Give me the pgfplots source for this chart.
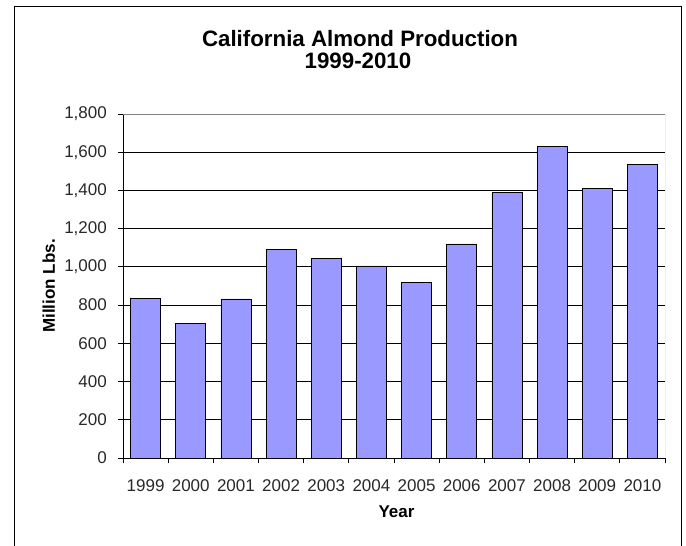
\documentclass[border=0pt]{standalone}
\usepackage{pgfplots}
\pgfplotsset{compat=1.18}
\usepackage{fontspec}
\setmainfont{Liberation Sans}
\definecolor{barfill}{RGB}{153,153,255}
\definecolor{bordergray}{RGB}{128,128,128}
\definecolor{ticktext}{RGB}{40,40,40}
\begin{document}
\begin{tikzpicture}[x=1pt,y=1pt]
\begin{axis}[
  at={(123pt,88pt)}, anchor=south west,
  width=542pt, height=344pt, scale only axis,
  xmin=-0.5, xmax=11.5, ymin=0, ymax=1800,
  axis x line*=bottom, axis y line*=left,
  axis line style={black, line width=0.8pt, -},
  tick align=outside,
  major tick length=5pt, minor tick length=5.5pt,
  ytick={0,200,...,1800},
  ytick style={draw=black, line width=0.8pt},
  xtick={0,...,11},
  xticklabels={1999,2000,2001,2002,2003,2004,2005,2006,2007,2008,2009,2010},
  major x tick style={draw=none},
  minor xtick={-0.5,0.5,...,11.5},
  minor x tick style={draw=black, line width=0.8pt},
  ymajorgrids, major grid style={black, line width=0.8pt},
  scaled y ticks=false,
  /pgf/number format/.cd, 1000 sep={,}, assume math mode=true,
  /pgfplots/.cd,
  yticklabel style={font=\fontsize{17}{18}\selectfont, text=ticktext, anchor=east, inner sep=0pt, xshift=-11pt},
  xticklabel style={font=\fontsize{17}{18}\selectfont, text=ticktext, anchor=north, inner sep=0pt, yshift=-16pt},
  xlabel={Year}, ylabel={Million Lbs.},
  xlabel style={font=\bfseries\fontsize{17}{19}\selectfont, at={(axis description cs:0.5046,-0.1744)}, anchor=base, inner sep=0pt},
  ylabel style={font=\bfseries\fontsize{17}{19}\selectfont, at={(axis description cs:-0.1255,0.5)}, anchor=base, rotate=0, inner sep=0pt},
]
\addplot[ybar, bar width=30pt, fill=barfill, draw=black, line width=0.8pt] coordinates {
(0,833) (1,704) (2,832) (3,1092) (4,1042) (5,1005) (6,917) (7,1120) (8,1390) (9,1632) (10,1412) (11,1534)
};
\draw[bordergray, line width=0.8pt] (rel axis cs:0,1) -- (rel axis cs:1,1) -- (rel axis cs:1,0);
\end{axis}
\draw[line width=1pt] (14,0) -- (14,539) -- (681,539) -- (681,0);
\node[font=\bfseries\fontsize{22.3}{24}\selectfont, anchor=base, inner sep=0pt] at (360,499.3) {California Almond Production};
\node[font=\bfseries\fontsize{22.3}{24}\selectfont, anchor=base, inner sep=0pt] at (358,477) {1999-2010};
\pgfresetboundingbox
\path[use as bounding box] (0,0) rectangle (686,546);
\end{tikzpicture}
\end{document}
